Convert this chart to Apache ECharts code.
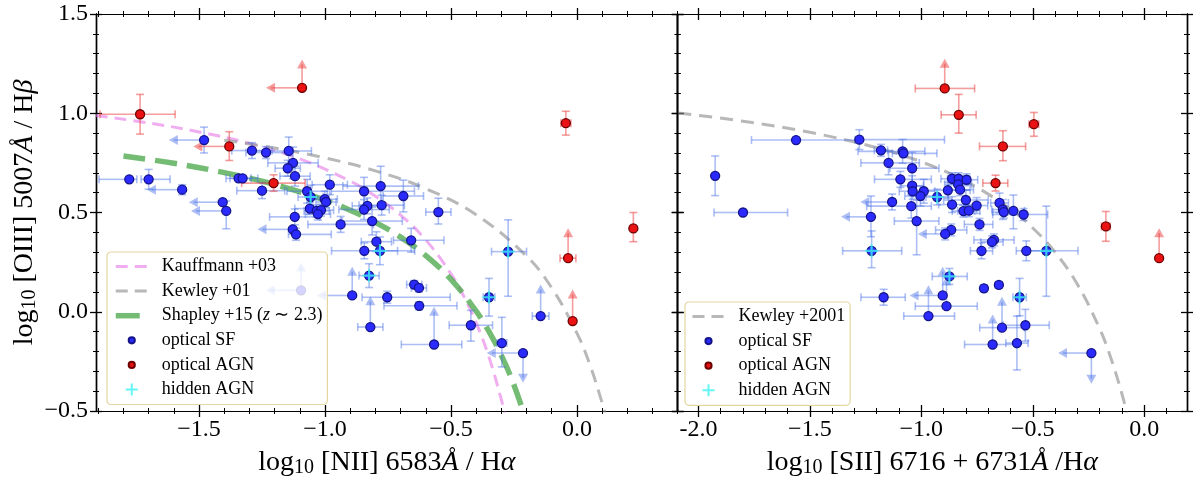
<!DOCTYPE html>
<html>
<head>
<meta charset="utf-8">
<script src="https://cdn.jsdelivr.net/npm/echarts@6/dist/echarts.min.js"></script>
<style>
html, body { margin: 0; padding: 0; background: #fff; }
#main { width: 1200px; height: 483px; }
</style>
</head>
<body>
<div id="main"></div>
<script>
// ---- data ----
// points: [x, y, xErrLow, xErrHigh, yErrLow, yErrHigh, limitFlag]  flag: 1 = left arrow, 2 = up arrow, 4 = down arrow
var niiSF = [
	[-1.480, 0.865, 0.12, 0, 0.065, 0.065, 1],
	[-1.290, 0.812, 0.08, 0.08, 0.04, 0.04, 0],
	[-1.234, 0.802, 0.08, 0.10, 0.03, 0.03, 0],
	[-1.144, 0.810, 0.155, 0.09, 0.09, 0.07, 0],
	[-1.777, 0.667, 0.12, 0.03, 0, 0, 0],
	[-1.700, 0.667, 0.03, 0.085, 0.05, 0.05, 0],
	[-1.567, 0.615, 0.12, 0, 0.025, 0.025, 1],
	[-1.406, 0.552, 0.115, 0, 0, 0, 1],
	[-1.392, 0.508, 0.12, 0, 0.09, 0.05, 1],
	[-1.343, 0.672, 0.05, 0.05, 0, 0, 0],
	[-1.327, 0.672, 0.05, 0.06, 0, 0, 0],
	[-1.250, 0.610, 0.10, 0.09, 0.04, 0.04, 0],
	[-1.127, 0.750, 0.10, 0.10, 0.08, 0.08, 0],
	[-1.148, 0.723, 0.05, 0.05, 0.04, 0.04, 0],
	[-1.119, 0.683, 0.06, 0.06, 0.05, 0.05, 0],
	[-1.071, 0.607, 0.08, 0.08, 0.06, 0.06, 0],
	[-0.981, 0.640, 0.07, 0.07, 0.05, 0.05, 0],
	[-1.120, 0.478, 0.10, 0.10, 0.04, 0.04, 0],
	[-1.060, 0.520, 0.06, 0.06, 0.03, 0.03, 0],
	[-1.033, 0.508, 0.05, 0.05, 0.03, 0.03, 0],
	[-1.016, 0.512, 0.05, 0.05, 0.03, 0.03, 0],
	[-1.028, 0.492, 0.05, 0.05, 0.03, 0.03, 0],
	[-1.001, 0.567, 0.05, 0.05, 0.04, 0.04, 0],
	[-0.996, 0.553, 0.04, 0.04, 0.03, 0.03, 0],
	[-1.128, 0.415, 0.12, 0, 0, 0, 1],
	[-1.115, 0.390, 0.03, 0.14, 0.03, 0.03, 0],
	[-0.938, 0.440, 0.13, 0.13, 0.04, 0.04, 0],
	[-0.845, 0.607, 0.13, 0.20, 0.07, 0.07, 0],
	[-0.779, 0.633, 0.15, 0.15, 0.10, 0.10, 0],
	[-0.689, 0.583, 0.08, 0.08, 0.08, 0.08, 0],
	[-0.832, 0.533, 0.06, 0.06, 0.04, 0.04, 0],
	[-0.845, 0.515, 0.10, 0.10, 0.05, 0.05, 0],
	[-0.775, 0.537, 0.09, 0.09, 0.05, 0.05, 0],
	[-0.813, 0.457, 0.12, 0.12, 0.07, 0.07, 0],
	[-0.550, 0.502, 0.05, 0.05, 0.06, 0.07, 0],
	[-0.658, 0.360, 0.07, 0.13, 0.06, 0.06, 0],
	[-0.796, 0.353, 0.06, 0.06, 0.05, 0.05, 0],
	[-0.844, 0.307, 0.13, 0.20, 0.04, 0.04, 0],
	[-0.782, 0.307, 0.07, 0.07, 0.07, 0.07, 0],
	[-1.095, 0.108, 0.12, 0, 0, 0.115, 3],
	[-0.892, 0.082, 0.12, 0, 0, 0.12, 3],
	[-0.753, 0.073, 0.10, 0.25, 0.03, 0.03, 0],
	[-0.646, 0.137, 0.03, 0.03, 0.02, 0.02, 0],
	[-0.627, 0.120, 0.03, 0.03, 0.02, 0.02, 0],
	[-0.626, 0.030, 0.14, 0.15, 0.02, 0.02, 0],
	[-0.820, -0.077, 0.05, 0.05, 0, 0.13, 2],
	[-0.421, -0.068, 0.086, 0.086, 0.08, 0.075, 0],
	[-0.567, -0.165, 0.13, 0.11, 0, 0.165, 2],
	[-0.298, -0.158, 0.02, 0.02, 0.12, 0.13, 0],
	[-0.214, -0.208, 0.124, 0, 0.125, 0, 5],
	[-0.144, -0.022, 0.033, 0.033, 0, 0.134, 2],
	[-0.273, 0.303, 0.066, 0.073, 0.225, 0.16, 0],
	[-0.349, 0.073, 0.023, 0.023, 0.095, 0.095, 0],
	[-1.057, 0.578, 0.05, 0.05, 0.06, 0.06, 0],
	[-0.825, 0.182, 0.04, 0.04, 0.06, 0.06, 0]
];
var niiAGN = [
	[-1.734, 0.995, 0.159, 0.139, 0.10, 0.10, 0],
	[-1.091, 1.128, 0.123, 0, 0, 0.117, 3],
	[-1.380, 0.833, 0.123, 0, 0.071, 0.074, 1],
	[-1.204, 0.648, 0.127, 0.125, 0.041, 0.042, 0],
	[-0.044, 0.950, 0.02, 0.02, 0.06, 0.06, 0],
	[-0.035, 0.270, 0.032, 0.031, 0, 0.125, 2],
	[-0.017, -0.047, 0, 0, 0, 0.134, 2],
	[0.224, 0.420, 0.01, 0.01, 0.067, 0.08, 0]
];
var niiHidden = [[-1.057, 0.578], [-0.782, 0.307], [-0.825, 0.182], [-0.273, 0.303], [-0.349, 0.073]];

var siiSF = [
	[-1.925, 0.685, 0, 0, 0.10, 0.10, 0],
	[-1.800, 0.500, 0.13, 0.20, 0, 0, 0],
	[-1.562, 0.865, 0.20, 0.29, 0, 0, 0],
	[-1.278, 0.867, 0.02, 0.382, 0.05, 0.05, 0],
	[-1.181, 0.813, 0.03, 0.03, 0.03, 0.03, 0],
	[-1.084, 0.808, 0.20, 0.10, 0.06, 0.06, 0],
	[-1.080, 0.798, 0.05, 0.15, 0.02, 0.02, 0],
	[-1.147, 0.750, 0.124, 0.138, 0.06, 0.06, 0],
	[-1.041, 0.723, 0.10, 0.12, 0.10, 0.08, 0],
	[-1.094, 0.667, 0.116, 0.139, 0.04, 0.04, 0],
	[-1.041, 0.635, 0.05, 0.05, 0.05, 0.05, 0],
	[-1.039, 0.607, 0.06, 0.06, 0.04, 0.04, 0],
	[-0.989, 0.607, 0.05, 0.05, 0.06, 0.06, 0],
	[-1.004, 0.583, 0.07, 0.07, 0.05, 0.05, 0],
	[-1.131, 0.553, 0.12, 0, 0.04, 0.04, 1],
	[-1.045, 0.532, 0.20, 0.09, 0.06, 0.06, 0],
	[-1.021, 0.457, 0.10, 0.10, 0.17, 0.105, 0],
	[-0.929, 0.578, 0.05, 0.05, 0.04, 0.04, 0],
	[-0.881, 0.612, 0.10, 0.10, 0.04, 0.04, 0],
	[-0.862, 0.670, 0.05, 0.05, 0.03, 0.03, 0],
	[-0.833, 0.670, 0.05, 0.05, 0.03, 0.03, 0],
	[-0.797, 0.665, 0.05, 0.05, 0.03, 0.03, 0],
	[-0.835, 0.642, 0.06, 0.06, 0.03, 0.03, 0],
	[-0.826, 0.615, 0.06, 0.06, 0.03, 0.03, 0],
	[-0.862, 0.540, 0.06, 0.06, 0.04, 0.04, 0],
	[-0.800, 0.563, 0.10, 0.10, 0.05, 0.05, 0],
	[-0.752, 0.535, 0.05, 0.05, 0.04, 0.04, 0],
	[-0.811, 0.507, 0.05, 0.05, 0.03, 0.03, 0],
	[-0.787, 0.509, 0.05, 0.05, 0.03, 0.03, 0],
	[-0.739, 0.440, 0.068, 0.06, 0.03, 0.03, 0],
	[-0.866, 0.412, 0.07, 0.07, 0.03, 0.03, 0],
	[-0.893, 0.392, 0.10, 0, 0.03, 0.03, 1],
	[-0.674, 0.362, 0.09, 0.09, 0.03, 0.03, 0],
	[-0.683, 0.352, 0.05, 0.05, 0.03, 0.03, 0],
	[-0.730, 0.307, 0.05, 0.05, 0.04, 0.04, 0],
	[-0.649, 0.548, 0.04, 0.04, 0.05, 0.05, 0],
	[-0.634, 0.515, 0.05, 0.05, 0.05, 0.05, 0],
	[-0.630, 0.502, 0.05, 0.05, 0.03, 0.03, 0],
	[-0.587, 0.508, 0.05, 0.05, 0.09, 0.08, 0],
	[-0.541, 0.490, 0.139, 0.108, 0.03, 0.03, 0],
	[-0.529, 0.307, 0.045, 0.10, 0.05, 0.05, 0],
	[-0.439, 0.307, 0.075, 0.142, 0.229, 0.225, 0],
	[-1.226, 0.478, 0.112, 0, 0.10, 0.105, 1],
	[-1.223, 0.307, 0.13, 0.135, 0.085, 0.10, 0],
	[-1.169, 0.073, 0.102, 0.097, 0.04, 0.04, 0],
	[-0.904, 0.082, 0.126, 0, 0, 0.12, 3],
	[-0.968, -0.022, 0.111, 0.117, 0, 0.13, 2],
	[-0.887, 0.028, 0.14, 0.138, 0, 0.125, 2],
	[-0.874, 0.178, 0.077, 0.08, 0.04, 0.04, 0],
	[-0.719, 0.118, 0.015, 0.015, 0.015, 0.015, 0],
	[-0.652, 0.135, 0.015, 0.015, 0.015, 0.015, 0],
	[-0.559, 0.073, 0.03, 0.03, 0.093, 0.095, 0],
	[-0.638, -0.080, 0.10, 0.10, 0, 0.13, 2],
	[-0.533, -0.068, 0.10, 0.107, 0.08, 0.08, 0],
	[-0.680, -0.165, 0.126, 0.106, 0, 0.126, 2],
	[-0.571, -0.158, 0.05, 0.05, 0.135, 0.136, 0],
	[-0.237, -0.208, 0.127, 0, 0.13, 0, 5]
];
var siiAGN = [
	[-0.895, 1.125, 0.132, 0.134, 0, 0.125, 2],
	[-0.832, 0.992, 0.079, 0.078, 0.092, 0.103, 0],
	[-0.495, 0.945, 0.022, 0.022, 0.061, 0.059, 0],
	[-0.634, 0.833, 0.105, 0.102, 0.072, 0.079, 0],
	[-0.667, 0.648, 0.057, 0.055, 0.04, 0.04, 0],
	[-0.172, 0.430, 0.02, 0.02, 0.075, 0.075, 0],
	[0.067, 0.270, 0, 0, 0, 0.125, 2]
];
var siiHidden = [[-0.929, 0.578], [-1.223, 0.307], [-0.439, 0.307], [-0.874, 0.178], [-0.559, 0.073]];

// demarcation curves
var kauffmannLine = [[-1.91, 0.989], [-1.7, 0.951], [-1.5, 0.906], [-1.3, 0.848], [-1.1, 0.770], [-0.9, 0.658], [-0.8, 0.582], [-0.7, 0.487], [-0.6, 0.362], [-0.5, 0.191], [-0.45, 0.080], [-0.4, -0.056], [-0.35, -0.225], [-0.3, -0.443], [-0.28, -0.548]];
var kewleyNiiLine = [[-1.4, 0.864], [-1.2, 0.825], [-1.0, 0.775], [-0.8, 0.710], [-0.6, 0.620], [-0.4, 0.489], [-0.2, 0.280], [-0.1, 0.120], [0.0, -0.108], [0.05, -0.262], [0.1, -0.459], [0.12, -0.553]];
var shapleyLine = [[-1.8, 0.785], [-1.6, 0.748], [-1.4, 0.701], [-1.2, 0.641], [-1.0, 0.562], [-0.9, 0.511], [-0.8, 0.450], [-0.7, 0.376], [-0.6, 0.283], [-0.5, 0.163], [-0.4, 0.003], [-0.35, -0.098], [-0.3, -0.220], [-0.25, -0.369], [-0.2, -0.555]];
var kewleySiiLine = [[-2.09, 1.001], [-1.8, 0.960], [-1.5, 0.904], [-1.2, 0.826], [-1.0, 0.755], [-0.8, 0.657], [-0.6, 0.517], [-0.5, 0.422], [-0.4, 0.300], [-0.3, 0.139], [-0.2, -0.085], [-0.15, -0.232], [-0.1, -0.414], [-0.07, -0.546]];

// tick labels
var niiTicks = [-1.5, -1.0, -0.5, 0.0];
var siiTicks = [-2.0, -1.5, -1.0, -0.5, 0.0];
var yTicks = [-0.5, 0.0, 0.5, 1.0, 1.5];

// ---- style ----
var FONT = 'Liberation Serif';
var ERR_BLUE = 'rgba(70,110,230,0.45)';
var ERR_RED = 'rgba(235,60,60,0.5)';
var PINK = 'rgba(230,120,230,0.6)', GRAY = 'rgba(140,140,140,0.62)', GREEN = 'rgba(70,165,70,0.75)';
var DOT = 'path://M-7,-7L-7,-7M7,7L7,7M-3.6,0A3.6,3.6,0,1,1,3.6,0A3.6,3.6,0,1,1,-3.6,0Z';
var PLUS = 'path://M-1,-6L1,-6L1,-1L6,-1L6,1L1,1L1,6L-1,6L-1,1L-6,1L-6,-1L-1,-1Z';

function steps(a, b, s) {
	var out = [];
	for (var v = a; v <= b + 1e-9; v += s) out.push(Math.round(v * 10) / 10);
	return out;
}
function minorsOf(a, b, majors) {
	return steps(a, b, 0.1).filter(function (v) {
		return majors.indexOf(v) < 0;
	});
}
function fmtMinus(v) {
	return v.toFixed(1).replace('-', '\u2212');
}

var titleRich = {
	n : { fontFamily : FONT, fontSize : 28, color : '#000' },
	s : { fontFamily : FONT, fontSize : 20, color : '#000', padding : [ 11, 0, 0, 0 ] },
	i : { fontFamily : FONT, fontSize : 28, color : '#000', fontStyle : 'italic' }
};

// builds one labelled axis plus the in/out major/minor tick copies on both sides
function buildAxes(list, grid, min, max, majors, minors, sides, main) {
	var mainIndex = list.length;
	sides.forEach(function (pos, si) {
		[ [ majors, 6, 1.3 ], [ minors, 3, 1 ] ].forEach(function (t, ti) {
			[ false, true ].forEach(function (inside, ii) {
				var ax = {
					gridIndex : grid,
					type : 'value',
					min : min,
					max : max,
					position : pos,
					axisLine : { show : true, onZero : false, lineStyle : { color : '#000', width : 1.2 } },
					axisTick : { show : true, inside : inside, length : t[1], customValues : t[0], lineStyle : { color : '#000', width : t[2] } },
					axisLabel : { show : false },
					splitLine : { show : false }
				};
				if (si === 0 && ti === 0 && ii === 0 && main) {
					for (var k in main) ax[k] = main[k];
				}
				list.push(ax);
			});
		});
	});
	return mainIndex;
}

var xAxes = [], yAxes = [];
var xMajL = steps(-1.5, 0, 0.5), xMajR = steps(-2.0, 0, 0.5), yMaj = steps(-0.5, 1.5, 0.5);

var xL = buildAxes(xAxes, 0, -1.909, 0.40, xMajL, minorsOf(-1.9, 0.4, xMajL), [ 'bottom', 'top' ], {
	axisLabel : { show : true, customValues : niiTicks, margin : 7, fontFamily : FONT, fontSize : 24, color : '#000', formatter : fmtMinus },
	name : '{n|log}{s|10}{n| [NII] 6583}{i|\u00c5}{n| / H}{i|\u03b1}',
	nameLocation : 'middle',
	nameGap : 36,
	nameTextStyle : { rich : titleRich }
});
var xR = buildAxes(xAxes, 1, -2.093, 0.192, xMajR, minorsOf(-2.0, 0.1, xMajR), [ 'bottom', 'top' ], {
	axisLabel : { show : true, customValues : siiTicks, margin : 7, fontFamily : FONT, fontSize : 24, color : '#000',
		formatter : function (v) { return v <= -2 ? v.toFixed(1) : fmtMinus(v); } },
	name : '{n|log}{s|10}{n| [SII] 6716 + 6731}{i|\u00c5}{n| /H}{i|\u03b1}',
	nameLocation : 'middle',
	nameGap : 36,
	nameTextStyle : { rich : titleRich }
});
var yL = buildAxes(yAxes, 0, -0.5, 1.5, yMaj, minorsOf(-0.5, 1.5, yMaj), [ 'left', 'right' ], {
	axisLabel : { show : true, customValues : yTicks, margin : 8, fontFamily : FONT, fontSize : 24, color : '#000', formatter : fmtMinus },
	name : '{n|log}{s|10}{n| [OIII] 5007}{i|\u00c5}{n| / H}{i|\u03b2}',
	nameLocation : 'middle',
	nameRotate : 90,
	nameGap : 56,
	nameTextStyle : { rich : titleRich }
});
var yR = buildAxes(yAxes, 1, -0.5, 1.5, yMaj, minorsOf(-0.5, 1.5, yMaj), [ 'left', 'right' ], null);

function errRender(color) {
	return function (params, api) {
		var x = api.value(0), y = api.value(1);
		var xl = api.value(2), xh = api.value(3), yl = api.value(4), yh = api.value(5), f = api.value(6);
		var p = api.coord([ x, y ]);
		var kids = [];
		var ls = { stroke : color, lineWidth : 1.6 };
		function line(a, b) {
			kids.push({ type : 'line', shape : { x1 : a[0], y1 : a[1], x2 : b[0], y2 : b[1] }, style : ls });
		}
		function head(q, d) {
			var pts;
			if (d === 'l') pts = [ [ q[0] - 5, q[1] ], [ q[0] + 4, q[1] - 5 ], [ q[0] + 4, q[1] + 5 ] ];
			else if (d === 'u') pts = [ [ q[0], q[1] - 5 ], [ q[0] - 5, q[1] + 4 ], [ q[0] + 5, q[1] + 4 ] ];
			else pts = [ [ q[0], q[1] + 5 ], [ q[0] - 5, q[1] - 4 ], [ q[0] + 5, q[1] - 4 ] ];
			kids.push({ type : 'polygon', shape : { points : pts }, style : { fill : color } });
		}
		var q;
		if (xl > 0) {
			q = api.coord([ x - xl, y ]);
			line(p, q);
			if (f & 1) head(q, 'l'); else line([ q[0], q[1] - 4 ], [ q[0], q[1] + 4 ]);
		}
		if (xh > 0) {
			q = api.coord([ x + xh, y ]);
			line(p, q);
			line([ q[0], q[1] - 4 ], [ q[0], q[1] + 4 ]);
		}
		if (yh > 0) {
			q = api.coord([ x, y + yh ]);
			line(p, q);
			if (f & 2) head(q, 'u'); else line([ q[0] - 4, q[1] ], [ q[0] + 4, q[1] ]);
		}
		if (yl > 0) {
			q = api.coord([ x, y - yl ]);
			line(p, q);
			if (f & 4) head(q, 'd'); else line([ q[0] - 4, q[1] ], [ q[0] + 4, q[1] ]);
		}
		return { type : 'group', children : kids };
	};
}

function curve(name, xi, yi, data, color, width, dash) {
	return {
		name : name, type : 'line', xAxisIndex : xi, yAxisIndex : yi, data : data,
		smooth : 0.4, symbol : 'none', silent : true, z : 1,
		itemStyle : { color : color, opacity : 0 },
		lineStyle : { color : color, width : width, type : dash }
	};
}
function errSeries(xi, yi, data, color) {
	return {
		name : 'err', type : 'custom', xAxisIndex : xi, yAxisIndex : yi, data : data,
		renderItem : errRender(color), encode : { x : 0, y : 1 }, silent : true, z : 2
	};
}
function dots(name, xi, yi, data, fill, edge) {
	return {
		name : name, type : 'scatter', xAxisIndex : xi, yAxisIndex : yi,
		data : data.map(function (d) { return [ d[0], d[1] ]; }),
		symbol : 'circle', symbolSize : 9, silent : true, z : 3,
		itemStyle : { color : fill, borderColor : edge, borderWidth : 1.3, opacity : 1 }
	};
}
function plus(xi, yi, data) {
	return {
		name : 'hidden AGN', type : 'scatter', xAxisIndex : xi, yAxisIndex : yi, data : data,
		symbol : PLUS, symbolSize : 13, silent : true, z : 3,
		itemStyle : { color : '#3ff2f2' }
	};
}

var legendText = {
	fontFamily : FONT, fontSize : 18, color : '#000', lineHeight : 20, padding : [ 0, 0, 0, 9 ],
	rich : {
		n : { fontFamily : FONT, fontSize : 18, color : '#000' },
		i : { fontFamily : FONT, fontSize : 18, color : '#000', fontStyle : 'italic' }
	}
};
function lineEntry(name, color, width, dash) {
	return { name : name, itemStyle : { opacity : 0 }, lineStyle : { color : color, width : width, type : dash, opacity : 1 } };
}
function legendBox(left, top, names) {
	return {
		left : left, top : top, orient : 'vertical', selectedMode : false,
		itemWidth : 32, itemHeight : 12, itemGap : 4.6,
		padding : [ 4.5, 5, 5, 6 ],
		backgroundColor : 'rgba(255,255,255,0.8)', borderColor : '#e3d69e', borderWidth : 1.2, borderRadius : 4,
		textStyle : legendText,
		formatter : function (n) {
			if (n.indexOf('Shapley') === 0) return '{n|Shapley +15 (}{i|z}{n| \u223c 2.3)}';
			return n;
		},
		data : names
	};
}

var myChart = echarts.init(document.getElementById('main'));
var option = {
	backgroundColor : '#fff',
	animation : false,
	grid : [
		{ left : 96, right : 522.3, top : 14, bottom : 69 },
		{ left : 677.7, right : 13, top : 14, bottom : 69 }
	],
	xAxis : xAxes,
	yAxis : yAxes,
	legend : [
		legendBox(107, 252, [ lineEntry('Kauffmann +03', PINK, 3, [ 12, 7 ]), lineEntry('Kewley +01', GRAY, 3, [ 12, 7 ]),
			lineEntry('Shapley +15 (z ~ 2.3)', GREEN, 5.5, [ 24, 9 ]),
			{ name : 'optical SF', icon : DOT }, { name : 'optical AGN', icon : DOT }, { name : 'hidden AGN', icon : PLUS } ]),
		legendBox(685, 302, [ lineEntry('Kewley +2001', GRAY, 3, [ 12, 7 ]),
			{ name : 'optical SF', icon : DOT }, { name : 'optical AGN', icon : DOT }, { name : 'hidden AGN', icon : PLUS } ])
	],
	series : [
		curve('Kauffmann +03', xL, yL, kauffmannLine, PINK, 3, [ 12, 7 ]),
		curve('Kewley +01', xL, yL, kewleyNiiLine, GRAY, 3, [ 13, 8 ]),
		curve('Shapley +15 (z ~ 2.3)', xL, yL, shapleyLine, GREEN, 5.5, [ 22, 10 ]),
		curve('Kewley +2001', xR, yR, kewleySiiLine, GRAY, 3, [ 13, 8 ]),
		errSeries(xL, yL, niiSF, ERR_BLUE),
		errSeries(xL, yL, niiAGN, ERR_RED),
		errSeries(xR, yR, siiSF, ERR_BLUE),
		errSeries(xR, yR, siiAGN, ERR_RED),
		dots('optical SF', xL, yL, niiSF, '#2b2bff', '#14148a'),
		dots('optical AGN', xL, yL, niiAGN, '#ea1212', '#6e0000'),
		dots('optical SF', xR, yR, siiSF, '#2b2bff', '#14148a'),
		dots('optical AGN', xR, yR, siiAGN, '#ea1212', '#6e0000'),
		plus(xL, yL, niiHidden),
		plus(xR, yR, siiHidden)
	]
};
myChart.setOption(option);
</script>
</body>
</html>
